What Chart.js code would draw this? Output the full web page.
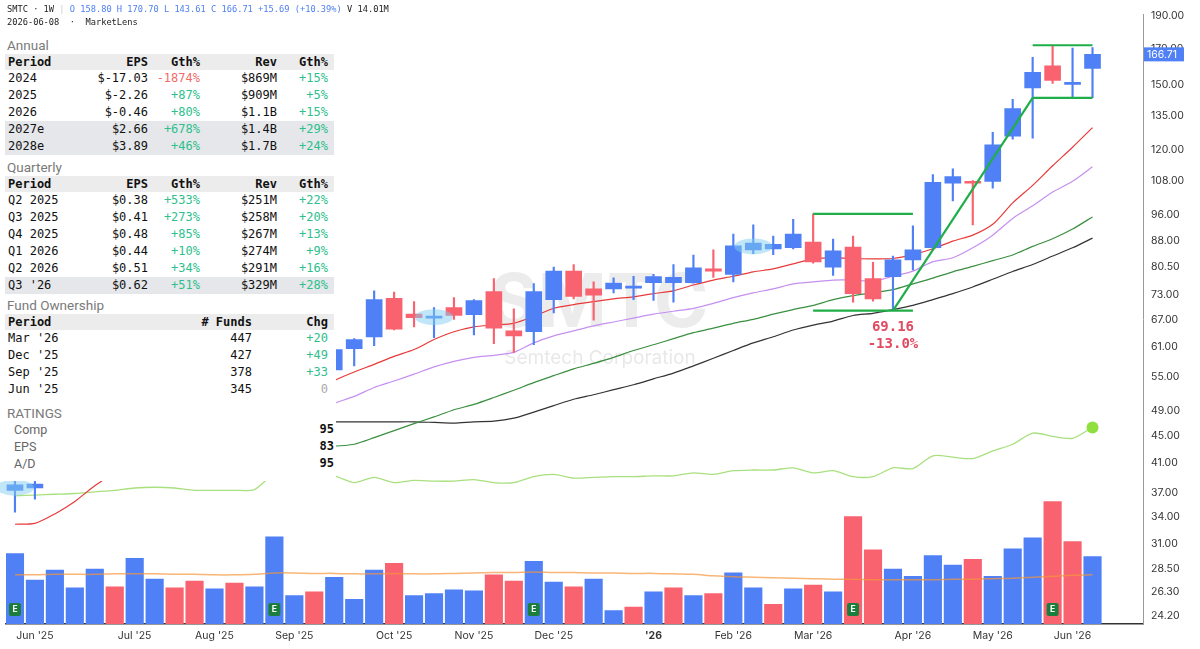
<!DOCTYPE html>
<html>
<head>
<meta charset="utf-8">
<script src="https://cdn.jsdelivr.net/npm/chart.js@4.4.1/dist/chart.umd.min.js"></script>
<style>
  html, body { margin: 0; padding: 0; background: #fff; }
  #wrap { position: relative; width: 1200px; height: 649px; overflow: hidden; }
  #chart { position: absolute; left: 0; top: 0; }
  #head { position: absolute; left: 7px; top: 3px; font: 8.7px "DejaVu Sans Mono", monospace; color: #222; line-height: 13px; white-space: pre; }
  #panel { position: absolute; left: 3px; top: 33px; width: 333px; height: 448px; background: #fff; }
  .sec { position: absolute; left: 2px; width: 329px; }
  .title { font: 13.5px Roboto, sans-serif; color: #7a7a7a; height: 18px; line-height: 18px; padding-left: 2px; }
  table { border-collapse: collapse; table-layout: fixed; width: 329px; font: 12px "DejaVu Sans Mono", monospace; color: #111; }
  td, th { padding: 0 3px; white-space: nowrap; overflow: hidden; }
  td:last-child, th:last-child { padding-right: 6px; }
  th { height: 16px; line-height: 16px; background: #ececec; font-weight: bold; }
  td { height: 17px; line-height: 17px; }
  tr.hl td { background: #e5e7ea; }
  .l { text-align: left; } .r { text-align: right; }
  .pos { color: #2dc08c; } .neg { color: #f06a6a; } .zero { color: #aaa; }
  .rate { display: flex; justify-content: space-between; height: 17px; line-height: 17px; padding-left: 9px; width: 320px; }
  .rate span:first-child { font: 12.5px Roboto, sans-serif; color: #666; }
  .rate span:last-child { font: bold 12px "DejaVu Sans Mono", monospace; color: #111; }
</style>
</head>
<body>
<div id="wrap">
  <canvas id="chart" width="1200" height="649"></canvas>
  <div id="head"></div>
  <div id="panel"></div>
</div>
<script>
// weekly bars, first bar = week of 2025-05-26, last = 2026-06-08
const opens  = [37.3, 37.6, 40.5, 42.0, 43.8, 46.2, 45.1, 48.0, 49.6, 48.2, 46.8, 49.0, 47.4, 50.0, 56.8, 58.6, 56.4,
  60.7, 63.2, 72.1, 68.3, 67.4, 69.9, 68.2, 73.8, 64.5, 64.3, 71.8, 79.2, 74.5, 74.5, 74.7, 76.1, 76.1, 76.1, 79.8,
  78.3, 85.2, 85.5, 85.8, 87.5, 80.3, 86.0, 77.2, 77.7, 82.3, 85.8, 107.1, 107.8, 107.8, 125.9, 148.6, 160.3, 150.4, 158.80];
const highs  = [38.5, 38.9, 42.5, 44.5, 46.8, 47.0, 48.5, 50.2, 50.0, 49.0, 49.5, 49.8, 50.5, 57.5, 59.5, 59.2, 61.5,
  62.8, 74.0, 73.7, 71.3, 69.9, 72.3, 71.8, 77.2, 69.6, 75.9, 80.3, 81.0, 76.3, 77.4, 77.8, 78.3, 81.0, 83.7, 85.2,
  89.9, 92.8, 89.3, 94.6, 96.4, 88.4, 89.3, 81.6, 83.4, 92.5, 110.3, 112.5, 108.1, 127.6, 142.8, 165.0, 172.0, 170.4, 170.70];
const lows   = [34.6, 36.2, 40.2, 41.3, 43.2, 44.5, 44.8, 47.2, 47.5, 46.0, 46.2, 46.5, 47.0, 49.5, 55.0, 55.2, 56.0,
  57.2, 61.3, 64.7, 65.4, 63.0, 67.1, 63.6, 61.7, 59.9, 61.5, 68.6, 72.0, 66.9, 73.5, 71.8, 71.6, 71.2, 76.0, 77.5,
  76.3, 84.1, 83.8, 85.5, 81.4, 78.0, 71.2, 71.4, 69.16, 79.5, 85.2, 100.8, 92.8, 105.3, 124.6, 125.0, 150.9, 144.1, 143.61];
const closes = [38.0, 38.1, 42.0, 43.8, 46.0, 45.1, 48.0, 49.6, 48.2, 46.8, 49.0, 47.4, 50.0, 56.5, 58.6, 56.4, 60.5,
  62.6, 71.8, 64.9, 67.5, 67.8, 68.0, 71.6, 65.1, 63.4, 73.8, 79.2, 72.6, 72.9, 76.0, 75.2, 77.7, 77.5, 80.1, 79.2,
  86.4, 87.2, 86.8, 89.9, 81.7, 84.9, 73.3, 72.0, 82.3, 85.2, 107.4, 109.6, 107.1, 122.2, 138.4, 156.8, 152.5, 151.0, 166.71];
// volume, millions of shares
const volumes = [14.6, 9.1, 11.2, 7.5, 11.4, 7.7, 13.6, 9.3, 7.5, 8.9, 7.3, 8.5, 7.7, 18.1, 5.9, 6.7, 9.7,
  5.1, 11.2, 12.6, 5.9, 6.3, 7.1, 6.9, 10.2, 8.9, 13.0, 8.7, 7.7, 9.3, 2.8, 3.5, 6.7, 7.5, 5.9, 6.3,
  10.6, 7.5, 4.1, 7.3, 8.1, 6.7, 22.3, 15.4, 11.4, 9.9, 14.2, 12.2, 13.4, 9.9, 15.6, 17.9, 25.4, 17.1, 14.01];
const volAvg = [10.2, 10.2, 10.3, 10.3, 10.3, 10.4, 10.4, 10.4, 10.3, 10.3, 10.2, 10.2, 10.3, 10.6, 10.6, 10.5, 10.5,
  10.4, 10.4, 10.5, 10.4, 10.4, 10.5, 10.6, 10.7, 10.7, 10.8, 10.7, 10.7, 10.6, 10.6, 10.5, 10.5, 10.4, 10.3, 10.0,
  9.8, 9.7, 9.6, 9.5, 9.4, 9.3, 9.3, 9.2, 9.2, 9.2, 9.2, 9.3, 9.3, 9.4, 9.5, 9.7, 9.9, 10.1, 10.2];
// moving averages
const ma10 = [33.2, 33.3, 34.4, 35.9, 37.9, 39.6, 41.0, 42.3, 43.4, 44.3, 45.2, 46.0, 47.0, 48.6, 50.6, 52.6, 54.4,
  56.0, 57.5, 59.1, 60.5, 62.6, 64.3, 65.4, 65.8, 66.2, 67.8, 69.7, 70.6, 71.3, 72.0, 72.5, 73.3, 74.0, 75.5, 76.8,
  77.8, 79.0, 79.8, 81.2, 82.6, 82.9, 82.7, 82.6, 82.7, 83.8, 85.5, 87.8, 89.6, 93.0, 100.1, 106.3, 113.7, 121.2, 129.6];
const ma21 = [39.8, 39.6, 39.5, 39.6, 39.9, 40.4, 41.0, 41.7, 42.4, 43.1, 43.8, 44.5, 45.3, 46.3, 47.6, 49.0, 50.3,
  51.5, 53.1, 54.3, 55.6, 57.0, 58.1, 58.9, 59.3, 59.9, 61.9, 63.4, 64.5, 65.6, 66.5, 67.4, 68.3, 69.0, 69.7, 70.9,
  72.3, 73.5, 74.5, 75.8, 76.3, 76.8, 76.8, 76.5, 77.8, 79.2, 81.8, 82.9, 85.8, 89.6, 94.9, 99.1, 103.9, 107.8, 113.3];
const ma30 = [45.5, 45.2, 44.8, 44.5, 44.2, 43.9, 43.6, 43.3, 43.1, 42.9, 42.7, 42.6, 42.6, 42.7, 42.9, 43.1, 43.4,
  43.7, 44.7, 45.8, 46.9, 48.0, 49.2, 50.1, 51.3, 52.6, 54.0, 55.3, 56.6, 57.7, 58.9, 60.3, 61.5, 62.8, 64.1, 65.1,
  66.2, 67.1, 68.3, 69.4, 70.4, 71.8, 72.8, 73.5, 74.3, 75.8, 77.3, 79.0, 80.5, 82.1, 83.7, 86.2, 88.5, 91.5, 95.4];
const ma40 = [46.7, 46.8, 46.8, 46.9, 46.9, 47.0, 47.0, 47.0, 47.1, 47.1, 47.1, 47.2, 47.2, 47.2, 47.2, 47.2, 47.2,
  47.2, 47.2, 47.2, 47.2, 47.1, 47.0, 47.2, 47.3, 47.8, 48.8, 49.9, 51.0, 51.8, 52.7, 53.6, 54.7, 55.8, 57.2, 58.7,
  60.3, 61.9, 63.2, 64.7, 65.8, 66.7, 68.0, 68.5, 69.4, 70.4, 71.8, 73.3, 75.0, 77.0, 79.1, 81.0, 83.4, 85.8, 88.7];
// relative strength line, drawn on the price scale
const rsLine = [36.6, 36.7, 36.8, 36.9, 37.1, 37.3, 37.6, 37.7, 37.6, 37.3, 37.3, 37.3, 37.4, 39.5, 39.8, 39.4, 39.2,
  38.3, 39.0, 38.3, 38.6, 38.5, 38.5, 38.7, 38.3, 38.3, 39.1, 39.4, 38.9, 39.0, 39.1, 39.1, 39.2, 39.2, 39.6, 39.4,
  39.9, 40.0, 40.0, 40.3, 39.6, 39.9, 39.1, 39.1, 40.3, 40.2, 42.0, 41.8, 41.6, 42.7, 43.7, 45.4, 44.9, 44.6, 46.3];

const yTicks = [24.2, 26.3, 28.5, 31, 34, 37, 41, 45, 49, 55, 61, 67, 73, 80.5, 88, 96, 108, 120, 135, 150, 170, 190];
const monthTickIdx = [1, 6, 10, 14, 19, 23, 27, 32, 36, 40, 45, 49, 53];
const monthTickLabels = ["Jun '25", "Jul '25", "Aug '25", "Sep '25", "Oct '25", "Nov '25", "Dec '25", "'26",
  "Feb '26", "Mar '26", "Apr '26", "May '26", "Jun '26"];
const yearTickIdx = 32;
const earningsIdx = [0, 13, 26, 42, 52];
const highlightIdx = [0, 21, 37];
// base / breakout lines (bar index ranges)
const baseX = [40, 45];
const trendX = [44, 51];
const handleX = [51, 54];
const lowNote = ['69.16', '-13.0%'];

// panel tables
const headLine1 = ['SMTC · 1W', 'O 158.80 H 170.70 L 143.61 C 166.71 +15.69 (+10.39%)', 'V 14.01M'];
const headLine2 = '2026-06-08  ·  MarketLens';
const finCols = ['Period', 'EPS', 'Gth%', 'Rev', 'Gth%'];
const annualRows = [
  ['2024', '$-17.03', '-1874%', '$869M', '+15%'],
  ['2025', '$-2.26', '+87%', '$909M', '+5%'],
  ['2026', '$-0.46', '+80%', '$1.1B', '+15%'],
  ['2027e', '$2.66', '+678%', '$1.4B', '+29%'],
  ['2028e', '$3.89', '+46%', '$1.7B', '+24%']
];
const annualHl = [3, 4];
const quarterRows = [
  ['Q2 2025', '$0.38', '+533%', '$251M', '+22%'],
  ['Q3 2025', '$0.41', '+273%', '$258M', '+20%'],
  ['Q4 2025', '$0.48', '+85%', '$267M', '+13%'],
  ['Q1 2026', '$0.44', '+10%', '$274M', '+9%'],
  ['Q2 2026', '$0.51', '+34%', '$291M', '+16%'],
  ["Q3 '26", '$0.62', '+51%', '$329M', '+28%']
];
const quarterHl = [5];
const fundCols = ['Period', '# Funds', 'Chg'];
const fundRows = [
  ["Mar '26", '447', '+20'],
  ["Dec '25", '427', '+49'],
  ["Sep '25", '378', '+33'],
  ["Jun '25", '345', '0']
];
const ratingNames = ['Comp', 'EPS', 'A/D'];
const ratingValues = [95, 83, 95];

// ---------- panel ----------
function signClass(s) {
  if (s.startsWith('+')) return 'pos';
  if (s.startsWith('-')) return 'neg';
  if (s === '0') return 'zero';
  return '';
}

function buildTable(cols, widths, rows, hl, colored) {
  let html = '<table><colgroup>' + widths.map(w => `<col style="width:${w}px">`).join('') + '</colgroup>';
  html += '<tr>' + cols.map((c, i) => `<th class="${i === 0 ? 'l' : 'r'}">${c}</th>`).join('') + '</tr>';
  rows.forEach((r, ri) => {
    html += `<tr class="${hl.includes(ri) ? 'hl' : ''}">` + r.map((c, i) => {
      const cls = (i === 0 ? 'l' : 'r') + (colored.includes(i) ? ' ' + signClass(c) : '');
      return `<td class="${cls}">${c}</td>`;
    }).join('') + '</tr>';
  });
  return html + '</table>';
}

const panel = document.getElementById('panel');
panel.innerHTML =
  `<div class="sec" style="top:3px"><div class="title">Annual</div>${buildTable(finCols, [88, 58, 52, 77, 54], annualRows, annualHl, [2, 4])}</div>` +
  `<div class="sec" style="top:125px"><div class="title">Quarterly</div>${buildTable(finCols, [88, 58, 52, 77, 54], quarterRows, quarterHl, [2, 4])}</div>` +
  `<div class="sec" style="top:263px"><div class="title">Fund Ownership</div>${buildTable(fundCols, [190, 60, 79], fundRows, [], [2])}</div>` +
  `<div class="sec" style="top:371px"><div class="title">RATINGS</div>` +
  ratingNames.map((n, i) => `<div class="rate"><span>${n}</span><span>${ratingValues[i]}</span></div>`).join('') + '</div>';

document.getElementById('head').innerHTML =
  `${headLine1[0]} <span style="color:#ccc">|</span> <span style="color:#4e7ff0">${headLine1[1]}</span> ${headLine1[2]}\n${headLine2}`;

// ---------- chart ----------
const UP = '#4f80f5';
const DOWN = '#f8636f';
const idx = closes.map((_, i) => i);
const candleColor = idx.map(i => closes[i] >= opens[i] ? UP : DOWN);
const volColor = idx.map(i => (i === 0 || closes[i] >= closes[i - 1]) ? UP : DOWN);
const last = closes.length - 1;

const series = arr => idx.map(i => ({ x: i, y: arr[i] }));
const lineDs = (data, color, order, width) => ({
  type: 'line', data: data, borderColor: color, borderWidth: width || 1.2,
  pointRadius: 0, tension: 0.25, yAxisID: 'y', order: order
});
const GREEN = '#1fae48';
const segment = (xs, ys) => ({
  type: 'line', data: xs.map((x, k) => ({ x: x, y: ys[k] })), borderColor: GREEN, borderWidth: 2.2,
  pointRadius: 0, tension: 0, yAxisID: 'y', order: 4
});

const overlays = {
  id: 'overlays',
  beforeDatasetsDraw(chart) {
    const { ctx } = chart;
    ctx.save();
    ctx.textAlign = 'center';
    ctx.textBaseline = 'middle';
    ctx.fillStyle = 'rgba(170,170,170,0.22)';
    ctx.font = 'bold 74px Inter, sans-serif';
    ctx.fillText('SMTC', 599, 305);
    ctx.fillStyle = 'rgba(150,150,150,0.22)';
    ctx.font = '19px Inter, sans-serif';
    ctx.fillText('Semtech Corporation', 600, 358);
    ctx.restore();
  },
  afterDatasetsDraw(chart) {
    const { ctx, scales, chartArea } = chart;
    const xs = scales.x, ys = scales.y;
    ctx.save();
    // highlight ellipses
    ctx.fillStyle = 'rgba(130,205,240,0.5)';
    highlightIdx.forEach(i => {
      const cx = xs.getPixelForValue(i);
      const cy = ys.getPixelForValue(Math.sqrt(opens[i] * closes[i]));
      ctx.beginPath();
      ctx.ellipse(cx, cy, 19, 8, 0, 0, Math.PI * 2);
      ctx.fill();
    });
    // earnings markers
    earningsIdx.forEach(i => {
      const cx = xs.getPixelForValue(i);
      ctx.fillStyle = '#1b7e3c';
      ctx.beginPath();
      ctx.roundRect(cx - 6, chartArea.bottom - 21, 12, 13, 2);
      ctx.fill();
      ctx.fillStyle = '#fff';
      ctx.font = 'bold 8.5px Inter, sans-serif';
      ctx.textAlign = 'center';
      ctx.textBaseline = 'middle';
      ctx.fillText('E', cx, chartArea.bottom - 14.5);
    });
    // base low note
    const lx = xs.getPixelForValue(trendX[0]);
    const ly = ys.getPixelForValue(lows[trendX[0]]);
    ctx.fillStyle = '#e04b62';
    ctx.font = 'bold 14px "DejaVu Sans Mono", monospace';
    ctx.textAlign = 'center';
    ctx.textBaseline = 'middle';
    ctx.fillText(lowNote[0], lx, ly + 17);
    ctx.fillText(lowNote[1], lx, ly + 34);
    // last price label
    const py = ys.getPixelForValue(closes[last]);
    ctx.fillStyle = UP;
    ctx.fillRect(chartArea.right + 1, py - 7, 40, 14);
    ctx.fillStyle = '#fff';
    ctx.font = '10.5px Inter, sans-serif';
    ctx.textAlign = 'left';
    ctx.fillText(closes[last].toFixed(2), chartArea.right + 4, py + 0.5);
    ctx.restore();
  }
};

new Chart(document.getElementById('chart'), {
  type: 'bar',
  data: {
    datasets: [
      { type: 'bar', data: series(volumes), backgroundColor: volColor, barThickness: 17.5, grouped: false, yAxisID: 'yVol', order: 20 },
      { type: 'line', data: series(volAvg), borderColor: 'rgba(245,150,60,0.7)', borderWidth: 1.5, pointRadius: 0, tension: 0.3, yAxisID: 'yVol', order: 19 },
      lineDs(series(rsLine), '#a9e07f', 18, 1.3),
      lineDs(series(ma40), '#333333', 17),
      lineDs(series(ma30), '#3a8f40', 16),
      lineDs(series(ma21), '#c590f0', 15),
      lineDs(series(ma10), '#e83a3a', 14),
      { type: 'bar', data: idx.map(i => ({ x: i, y: [lows[i], highs[i]] })), backgroundColor: candleColor, barThickness: 1.5, grouped: false, yAxisID: 'y', order: 12 },
      { type: 'bar', data: idx.map(i => ({ x: i, y: [opens[i], closes[i]] })), backgroundColor: candleColor, barThickness: 16, grouped: false, minBarLength: 2, yAxisID: 'y', order: 11 },
      segment(baseX, [highs[baseX[0]], highs[baseX[0]]]),
      segment(baseX, [lows[trendX[0]], lows[trendX[0]]]),
      segment(trendX, [lows[trendX[0]], lows[last]]),
      segment(handleX, [lows[last], lows[last]]),
      segment(handleX, [highs[52], highs[52]]),
      { type: 'line', data: [{ x: last, y: rsLine[last] }], pointRadius: 6, pointBackgroundColor: '#8fe03f', pointBorderWidth: 0, showLine: false, yAxisID: 'y', order: 3 }
    ]
  },
  options: {
    responsive: false,
    animation: false,
    devicePixelRatio: 1,
    layout: { padding: 0 },
    plugins: { legend: { display: false }, tooltip: { enabled: false } },
    scales: {
      x: {
        type: 'linear', min: -0.449, max: 56.53, offset: false,
        grid: { display: false, drawTicks: false, offset: false },
        border: { color: '#333', width: 1.5 },
        afterBuildTicks: s => { s.ticks = monthTickIdx.map(v => ({ value: v })); },
        afterFit: s => { s.height = 25; },
        ticks: {
          autoSkip: false, maxRotation: 0, padding: 6, color: '#333',
          font: c => ({ family: 'Inter', size: 10.5, weight: (c.tick && c.tick.value === yearTickIdx) ? 'bold' : 'normal' }),
          callback: v => monthTickLabels[monthTickIdx.indexOf(v)] || ''
        }
      },
      y: {
        type: 'logarithmic', position: 'right', min: 23.57, max: 191.3,
        grid: { display: false, drawTicks: false },
        border: { color: '#999', width: 1 },
        afterBuildTicks: s => { s.ticks = yTicks.map(v => ({ value: v })); },
        afterFit: s => { s.width = 57; },
        ticks: { autoSkip: false, padding: 8, color: '#333', font: { family: 'Inter', size: 10.5 }, callback: v => Number(v).toFixed(2) }
      },
      yVol: { type: 'linear', display: false, min: 0, max: 126.5 }
    }
  },
  plugins: [overlays]
});
</script>
</body>
</html>
